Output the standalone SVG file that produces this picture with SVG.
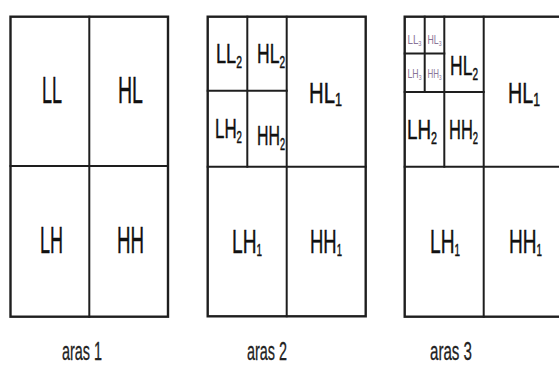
<svg xmlns="http://www.w3.org/2000/svg" width="559" height="365" viewBox="0 0 559 365">
<style>
.ln{stroke:#1e1e1e;stroke-width:2;fill:none;stroke-linecap:square}
.bd{stroke:#1e1e1e;stroke-width:2.4;fill:#fff}
text{font-family:"Liberation Sans",Arial,sans-serif;fill:#111;text-anchor:middle;stroke:#111;stroke-width:0.45}
.l1{font-size:36px}
.m1{font-size:33px}
.h1{font-size:29px}
.l2{font-size:28px}
.l3{font-size:12px;fill:#8a7598;stroke:none}
.cap{font-size:25px;fill:#222;stroke:#222;stroke-width:0.3}
</style>
<rect width="559" height="365" fill="#fff"/>
<g id="panel1">
  <rect class="bd" x="10.5" y="16.7" width="157.5" height="300"/>
  <g id="connectors1">
    <line class="ln" x1="89.3" y1="16.7" x2="89.3" y2="316.7"/>
    <line class="ln" x1="10.5" y1="166" x2="168" y2="166"/>
  </g>
  <g id="p1-LL"><text class="l1" x="52" y="103" textLength="20" lengthAdjust="spacingAndGlyphs">LL</text></g>
  <g id="p1-HL"><text class="l1" x="130.5" y="103" textLength="25" lengthAdjust="spacingAndGlyphs">HL</text></g>
  <g id="p1-LH"><text class="l1" x="51.5" y="253" textLength="23" lengthAdjust="spacingAndGlyphs">LH</text></g>
  <g id="p1-HH"><text class="l1" x="130.5" y="253" textLength="27" lengthAdjust="spacingAndGlyphs">HH</text></g>
</g>
<g id="panel2">
  <rect class="bd" x="207.7" y="16.7" width="158" height="299.6"/>
  <g id="connectors2">
    <line class="ln" x1="286.7" y1="16.7" x2="286.7" y2="316.3"/>
    <line class="ln" x1="207.7" y1="166.7" x2="365.7" y2="166.7"/>
    <line class="ln" x1="247.3" y1="16.7" x2="247.3" y2="166.7"/>
    <line class="ln" x1="207.7" y1="90.7" x2="286.7" y2="90.7"/>
  </g>
  <g id="p2-LL2"><text class="l2" x="229" y="63" textLength="26" lengthAdjust="spacingAndGlyphs">LL<tspan font-size="16" dy="5">2</tspan></text></g>
  <g id="p2-HL2"><text class="l2" x="271" y="63" textLength="28" lengthAdjust="spacingAndGlyphs">HL<tspan font-size="16" dy="5">2</tspan></text></g>
  <g id="p2-LH2"><text class="l2" x="228.5" y="138" textLength="27" lengthAdjust="spacingAndGlyphs">LH<tspan font-size="16" dy="5">2</tspan></text></g>
  <g id="p2-HH2"><text class="l2" x="271" y="145" textLength="28" lengthAdjust="spacingAndGlyphs">HH<tspan font-size="16" dy="5">2</tspan></text></g>
  <g id="p2-HL1"><text class="h1" x="325.5" y="103" textLength="33" lengthAdjust="spacingAndGlyphs">HL<tspan font-size="18" dy="3">1</tspan></text></g>
  <g id="p2-LH1"><text class="m1" x="247" y="253" textLength="30" lengthAdjust="spacingAndGlyphs">LH<tspan font-size="17" dy="3">1</tspan></text></g>
  <g id="p2-HH1"><text class="m1" x="326" y="253" textLength="32" lengthAdjust="spacingAndGlyphs">HH<tspan font-size="17" dy="3">1</tspan></text></g>
</g>
<g id="panel3">
  <rect class="bd" x="404.7" y="16.7" width="160" height="300"/>
  <g id="connectors3">
    <line class="ln" x1="483.7" y1="16.7" x2="483.7" y2="316.7"/>
    <line class="ln" x1="404.7" y1="166.7" x2="564" y2="166.7"/>
    <line class="ln" x1="444.3" y1="16.7" x2="444.3" y2="166.7"/>
    <line class="ln" x1="404.7" y1="92" x2="483.7" y2="92"/>
    <line class="ln" x1="424.7" y1="16.7" x2="424.7" y2="92"/>
    <line class="ln" x1="404.7" y1="53.5" x2="444.3" y2="53.5"/>
  </g>
  <g id="p3-LL3"><text class="l3" x="414.5" y="44" textLength="14" lengthAdjust="spacingAndGlyphs">LL<tspan font-size="7" dy="2">3</tspan></text></g>
  <g id="p3-HL3"><text class="l3" x="434.5" y="44" textLength="14" lengthAdjust="spacingAndGlyphs">HL<tspan font-size="7" dy="2">3</tspan></text></g>
  <g id="p3-LH3"><text class="l3" x="414.5" y="78" textLength="14" lengthAdjust="spacingAndGlyphs">LH<tspan font-size="7" dy="2">3</tspan></text></g>
  <g id="p3-HH3"><text class="l3" x="434.5" y="78" textLength="14" lengthAdjust="spacingAndGlyphs">HH<tspan font-size="7" dy="2">3</tspan></text></g>
  <g id="p3-HL2"><text class="l2" x="464" y="75" textLength="28" lengthAdjust="spacingAndGlyphs">HL<tspan font-size="16" dy="5">2</tspan></text></g>
  <g id="p3-LH2"><text class="l2" x="422" y="139" textLength="30" lengthAdjust="spacingAndGlyphs">LH<tspan font-size="16" dy="5">2</tspan></text></g>
  <g id="p3-HH2"><text class="l2" x="463.5" y="139" textLength="29" lengthAdjust="spacingAndGlyphs">HH<tspan font-size="16" dy="5">2</tspan></text></g>
  <g id="p3-HL1"><text class="h1" x="524" y="103" textLength="32" lengthAdjust="spacingAndGlyphs">HL<tspan font-size="18" dy="3">1</tspan></text></g>
  <g id="p3-LH1"><text class="m1" x="445" y="253" textLength="30" lengthAdjust="spacingAndGlyphs">LH<tspan font-size="17" dy="3">1</tspan></text></g>
  <g id="p3-HH1"><text class="m1" x="525.5" y="253" textLength="33" lengthAdjust="spacingAndGlyphs">HH<tspan font-size="17" dy="3">1</tspan></text></g>
</g>
<g id="captions">
  <text class="cap" x="82" y="360" textLength="40" lengthAdjust="spacingAndGlyphs">aras 1</text>
  <text class="cap" x="267" y="360" textLength="40" lengthAdjust="spacingAndGlyphs">aras 2</text>
  <text class="cap" x="451" y="360" textLength="42" lengthAdjust="spacingAndGlyphs">aras 3</text>
</g>
</svg>
